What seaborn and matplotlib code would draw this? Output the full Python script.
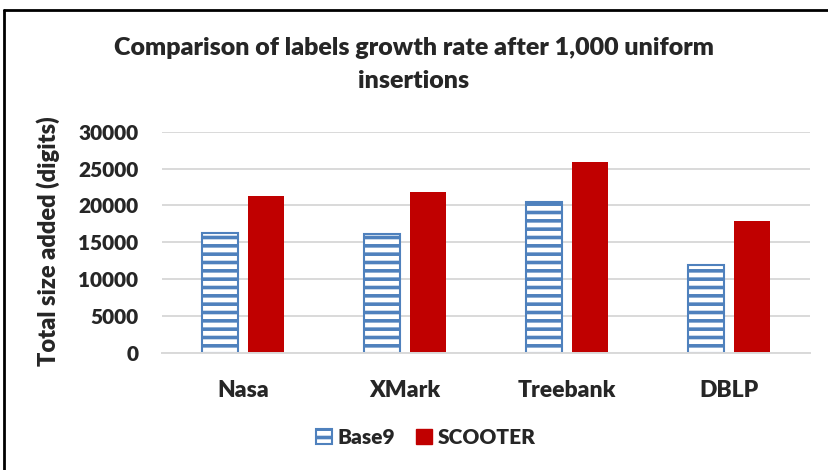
import pandas as pd
import matplotlib.pyplot as plt
import seaborn as sns
from matplotlib.patches import Patch
from matplotlib.lines import Line2D

sns.set_theme(style="white")
plt.rcParams['font.family'] = ['Lato', 'DejaVu Sans']
plt.rcParams['font.weight'] = 'heavy'
plt.rcParams['hatch.linewidth'] = 2.6

# data
datasets = ["Nasa", "XMark", "Treebank", "DBLP"]
base9 = [16200, 16100, 20500, 11900]
scooter = [21300, 21800, 25850, 17900]
methods = ["Base9", "SCOOTER"]
y_ticks = [0, 5000, 10000, 15000, 20000, 25000, 30000]

blue = "#4F81BD"
red = "#C00000"
grid_color = "#D9D9D9"

df = pd.DataFrame({
    "Dataset": datasets * 2,
    "Method": [methods[0]] * len(base9) + [methods[1]] * len(scooter),
    "Size": base9 + scooter,
})

fig = plt.figure(figsize=(8.29, 4.70), dpi=100)
ax = fig.add_axes([162 / 829, 1 - 352.7 / 470, 648 / 829, 221 / 470])

sns.barplot(data=df, x="Dataset", y="Size", hue="Method", hue_order=methods,
            palette=[blue, red], width=0.568, gap=0.217, ax=ax, legend=False,
            saturation=1)

# striped Base9 bars
for bar in ax.containers[0]:
    bar.set_facecolor("white")
    bar.set_edgecolor(blue)
    bar.set_hatch("--")
    bar.set_linewidth(1.5)
for bar in ax.containers[1]:
    bar.set_edgecolor(red)
    bar.set_linewidth(0)

ax.set_ylim(0, 30000)
ax.set_yticks(y_ticks)
ax.set_yticklabels([str(t) for t in y_ticks])
ax.yaxis.grid(True, color=grid_color, linewidth=1.4)
ax.set_axisbelow(True)
for s in ["top", "right", "left"]:
    ax.spines[s].set_visible(False)
ax.spines["bottom"].set_color(grid_color)
ax.spines["bottom"].set_linewidth(1.4)
ax.tick_params(axis="both", length=0)
ax.tick_params(axis="y", pad=17, labelsize=15)
ax.tick_params(axis="x", pad=20, labelsize=16.5)
ax.set_xlabel("")
ax.set_ylabel("")

fig.text(48 / 829, 1 - 241 / 470, "Total size added (digits)", rotation=90,
         ha="center", va="center", fontsize=17)
fig.text(414 / 829, 1 - 64.5 / 470,
         "Comparison of labels growth rate after 1,000 uniform\ninsertions",
         ha="center", va="center", fontsize=18, linespacing=1.6)

handles = [Patch(facecolor="white", edgecolor=blue, hatch="--", linewidth=1.5),
           Patch(facecolor=red, edgecolor=red)]
fig.legend(handles, methods, loc="center", bbox_to_anchor=(426 / 829, 1 - 437 / 470),
           ncol=2, frameon=False, fontsize=15, handlelength=0.75, handleheight=0.75,
           handletextpad=0.3, columnspacing=1.0)

# outer frame (right/bottom edges cut off in the reference)
fig.add_artist(Line2D([4.5 / 829, 4.5 / 829], [0, 1 - 10 / 470], color="black",
                      linewidth=2, transform=fig.transFigure))
fig.add_artist(Line2D([4.5 / 829, 1], [1 - 10 / 470, 1 - 10 / 470], color="black",
                      linewidth=2, transform=fig.transFigure))

fig.savefig("out.png", dpi=100)
